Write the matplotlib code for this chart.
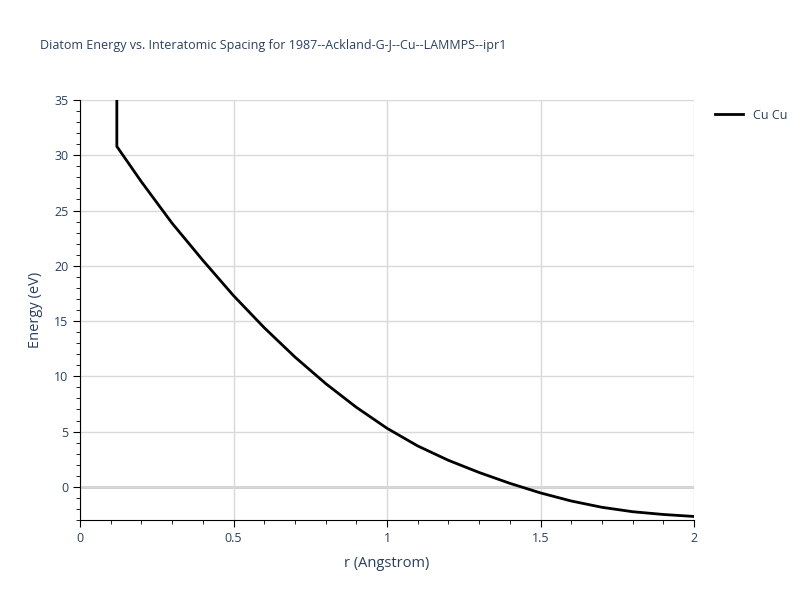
import matplotlib.pyplot as plt
from matplotlib.ticker import MultipleLocator

# Diatom energy curve
r_values = [0.12, 0.12, 0.2, 0.3, 0.4, 0.5, 0.6, 0.7, 0.8, 0.9, 1.0,
            1.1, 1.2, 1.3, 1.4, 1.5, 1.6, 1.7, 1.8, 1.9, 2.0]
energy_values = [40.0, 30.8, 27.6, 23.85, 20.5, 17.3, 14.4, 11.75, 9.35, 7.2, 5.3,
                 3.7, 2.4, 1.3, 0.32, -0.55, -1.28, -1.85, -2.25, -2.5, -2.68]
series_name = "Cu Cu"
title = "Diatom Energy vs. Interatomic Spacing for 1987--Ackland-G-J--Cu--LAMMPS--ipr1"

text_color = "#2a3f5f"
plt.rcParams['font.family'] = ['Open Sans', 'DejaVu Sans']

fig = plt.figure(figsize=(8, 6), dpi=100)
ax = fig.add_axes([0.1, 1 - 520 / 600, 0.7675, 420 / 600])

# Curve
ax.plot(r_values, energy_values, color="black", lw=2, label=series_name, zorder=3)

# Limits and ticks
ax.set_xlim(0, 2)
ax.set_ylim(-3, 35)
ax.xaxis.set_major_locator(MultipleLocator(0.5))
ax.xaxis.set_minor_locator(MultipleLocator(0.1))
ax.yaxis.set_major_locator(MultipleLocator(5))
ax.yaxis.set_minor_locator(MultipleLocator(1))
ax.set_xticks([0, 0.5, 1, 1.5, 2])
ax.set_xticklabels(["0", "0.5", "1", "1.5", "2"])

# Grid, like plotly's white template
ax.grid(True, which="major", color="#d9d9d9", lw=1, zorder=0)
ax.axhline(0, color="#cccccc", lw=2, zorder=1)
for side in ["top", "right"]:
    ax.spines[side].set_visible(False)
ax.spines["left"].set_color("black")
ax.spines["bottom"].set_color("black")
ax.tick_params(which="major", direction="out", length=5, color="black",
               labelcolor=text_color, labelsize=9)
ax.tick_params(which="minor", direction="out", length=3, color="black")

# Labels
ax.set_xlabel("r (Angstrom)", color=text_color, fontsize=10.5, labelpad=8)
ax.set_ylabel("Energy (eV)", color=text_color, fontsize=10.5, labelpad=8)
fig.text(40 / 800, 1 - 45 / 600, title, color=text_color, fontsize=9, va="center", ha="left")

# Legend at top right, outside plot area
leg = ax.legend(loc="upper left", bbox_to_anchor=(1.02, 1.0), frameon=False,
                fontsize=9, handlelength=2.2, borderaxespad=0.3)
for t in leg.get_texts():
    t.set_color(text_color)

plt.savefig("out.png", dpi=100)
